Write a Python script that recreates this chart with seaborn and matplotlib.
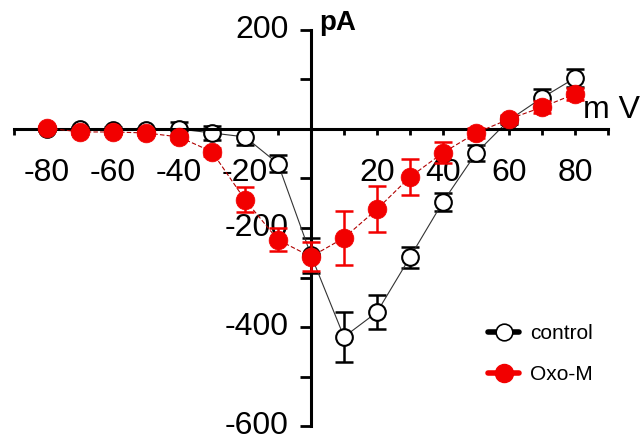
import numpy as np
import pandas as pd
import seaborn as sns
import matplotlib.pyplot as plt
from matplotlib.lines import Line2D
from matplotlib.ticker import FixedLocator, FuncFormatter

# --- data ---
mv = [-80, -70, -60, -50, -40, -30, -20, -10, 0, 10, 20, 30, 40, 50, 60, 70, 80]
control = [0, 0, -2, -3, 0, -8, -16, -70, -255, -420, -370, -259, -147, -49, 18, 63, 103]
control_err = [4, 4, 6, 6, 14, 14, 17, 17, 35, 50, 35, 21, 18, 16, 8, 18, 18]
oxo = [2, -6, -6, -8, -16, -46, -143, -224, -258, -220, -162, -97, -48, -8, 20, 44, 71]
oxo_err = [4, 4, 4, 4, 6, 8, 25, 23, 29, 54, 47, 37, 21, 10, 8, 12, 12]

x_major = [-80, -60, -40, -20, 0, 20, 40, 60, 80]
y_major = [200, 0, -200, -400, -600]

df = pd.DataFrame({"mV": mv, "control": control, "oxo": oxo})

sns.set_style("ticks", {"axes.edgecolor": "black", "xtick.color": "black",
                        "ytick.color": "black", "text.color": "black"})
plt.rcParams["font.family"] = ["Liberation Sans", "DejaVu Sans"]

fig = plt.figure(figsize=(6.43, 4.40), dpi=100)
ax = fig.add_axes([14 / 643, 14 / 440, 594 / 643, 396 / 440])

RED = "#f20000"

# control: error bars then open circles joined by thin line
ax.errorbar(mv, control, yerr=control_err, fmt="none", ecolor="black",
            elinewidth=1.8, capsize=6.5, capthick=1.8, zorder=2, clip_on=False)
sns.lineplot(data=df, x="mV", y="control", ax=ax, color="#333333", lw=0.8,
             marker="o", markersize=12, markerfacecolor="white",
             markeredgecolor="black", markeredgewidth=1.5, zorder=2.2, clip_on=False)

# Oxo-M: red filled circles
ax.errorbar(mv, oxo, yerr=oxo_err, fmt="none", ecolor=RED,
            elinewidth=1.8, capsize=6.5, capthick=1.8, zorder=3, clip_on=False)
sns.lineplot(data=df, x="mV", y="oxo", ax=ax, color="#b00000", lw=0.8,
             linestyle=(0, (4, 2)), marker="o", markersize=13.5,
             markerfacecolor=RED, markeredgecolor=RED, markeredgewidth=0.5,
             zorder=3.2, clip_on=False)

# axes crossing at the origin
ax.set_xlim(-90, 90)
ax.set_ylim(-600, 200)
for side in ["top", "right"]:
    ax.spines[side].set_visible(False)
ax.spines["left"].set_position(("data", 0))
ax.spines["bottom"].set_position(("data", 0))
for side in ["left", "bottom"]:
    ax.spines[side].set_linewidth(2.2)
    ax.spines[side].set_zorder(2.5)

ax.xaxis.set_major_locator(FixedLocator(x_major))
ax.xaxis.set_minor_locator(FixedLocator([-90, -70, -50, -30, -10, 10, 30, 50, 70, 90]))
ax.yaxis.set_major_locator(FixedLocator(y_major))
ax.yaxis.set_minor_locator(FixedLocator([100, -100, -300, -500]))
hide_zero = FuncFormatter(lambda v, p: "" if v == 0 else f"{v:.0f}")
ax.xaxis.set_major_formatter(hide_zero)
ax.yaxis.set_major_formatter(hide_zero)

ax.tick_params(axis="x", which="both", direction="out", length=4, width=2,
               labelsize=23, pad=17)
ax.tick_params(axis="y", which="both", direction="out", length=8, width=2,
               labelsize=23, pad=8)
ax.set_xlabel("")
ax.set_ylabel("")
for lab in ax.get_yticklabels():
    lab.set_verticalalignment("center")

# unit labels at the axis ends
ax.text(2.5, 200, "pA", fontsize=20, fontweight="bold", va="baseline",
        ha="left", clip_on=False)
ax.text(82.5, 22, "m V", fontsize=23, va="baseline", ha="left", clip_on=False)

handles = [
    Line2D([], [], color="black", lw=4, marker="o", markersize=12,
           markerfacecolor="white", markeredgecolor="black", markeredgewidth=1.2),
    Line2D([], [], color=RED, lw=4, marker="o", markersize=13,
           markerfacecolor=RED, markeredgecolor=RED),
]
ax.legend(handles, ["control", "Oxo-M"], frameon=False, fontsize=15,
          loc="upper left", bbox_to_anchor=(488 / 643, 1 - 324 / 440),
          bbox_transform=fig.transFigure, borderaxespad=0, borderpad=0,
          handlelength=1.5, handletextpad=0.5, labelspacing=1.05)

fig.savefig("out.png", dpi=100)
